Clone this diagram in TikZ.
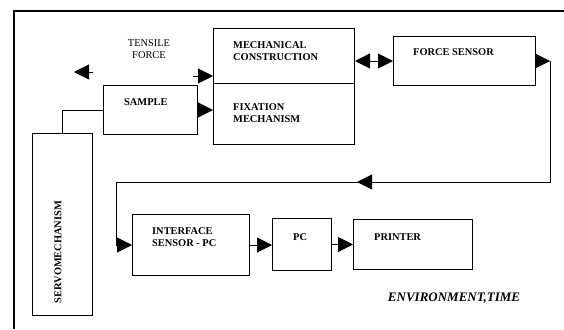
\documentclass[tikz,border=0pt]{standalone}
\usepackage{fontspec}
\setmainfont{Liberation Serif}
\usetikzlibrary{arrows.meta}

\begin{document}
\begin{tikzpicture}[x=1pt,y=-1pt,
  box/.style={draw,line width=1pt,inner sep=0pt,anchor=north west},
  txt/.style={font=\fontsize{10.4}{12}\selectfont\bfseries,align=left,anchor=west,inner sep=0pt},
  tip/.style={-{Triangle[length=15pt,width=15pt]},line width=1pt}]

\useasboundingbox (0,0) rectangle (564,329);

% frame
\draw[line width=1.3pt] (14,329) -- (14,11) -- (564,11);

% upper row
\node[box,minimum width=141pt,minimum height=55pt] (mech) at (213,28) {};
\node[box,minimum width=141pt,minimum height=61pt] (fix) at (213,83) {};
\node[box,minimum width=142pt,minimum height=49pt] (force) at (393,36) {};
\node[box,minimum width=94pt,minimum height=49pt] (sample) at (103,85) {};
\node[box,minimum width=60pt,minimum height=182pt] (servo) at (32,133) {};

\node[txt] (mechtxt) at (233,51) {MECHANICAL\\CONSTRUCTION};
\node[txt] (fixtxt) at (233,113) {FIXATION\\MECHANISM};
\node[txt] (forcetxt) at (413,52) {FORCE SENSOR};
\node[txt] (sampletxt) at (124,102) {SAMPLE};
\node[txt,anchor=center,rotate=90] (servotxt) at (58,252) {SERVOMECHANISM};
\node[font=\fontsize{10.4}{12}\selectfont,align=center,inner sep=0pt] (tensile) at (149,49) {TENSILE\\FORCE};

% lower row
\node[box,minimum width=117pt,minimum height=61pt] (iface) at (132,214) {};
\node[box,minimum width=59pt,minimum height=52pt] (pc) at (272,218) {};
\node[box,minimum width=119pt,minimum height=50pt] (printer) at (353,219) {};

\node[txt] (ifacetxt) at (152,237.5) {INTERFACE\\SENSOR - PC};
\node[txt] (pctxt) at (293,237) {PC};
\node[txt] (printertxt) at (374,237) {PRINTER};
\node[font=\fontsize{13}{15}\selectfont\bfseries\itshape,inner sep=0pt] (env) at (454,298) {ENVIRONMENT,TIME};

% tensile force arrows
\coordinate (tl0) at (93,72);
\coordinate (tl1) at (74,72);
\draw[tip] (tl0) -- (tl1);
\coordinate (tr0) at (193,76);
\draw[tip] (tr0) -- (tr0 -| mech.west);

\draw[tip] (sample.east) -- (sample.east -| fix.west);
\draw[line width=1pt] (sample.west) -| (servo.north);
\draw[tip,{Triangle[length=15pt,width=15pt]}-{Triangle[length=15pt,width=15pt]}] (force.west -| mech.east) -- (force.west);

% return line
\coordinate (r0) at (550,61);
\coordinate (r1) at (550,182);
\coordinate (r2) at (116,182);
\coordinate (rm) at (357,182);
\draw[tip] (force.east) -- (force.east -| r0);
\draw[tip] (force.east -| r0) -- (r1) -- (r2) |- (iface.west);
\draw[tip] ([xshift=15pt]rm) -- (rm);

\draw[tip] (iface.east) -- (iface.east -| pc.west);
\draw[tip] (pc.east) -- (pc.east -| printer.west);

\end{tikzpicture}
\end{document}
